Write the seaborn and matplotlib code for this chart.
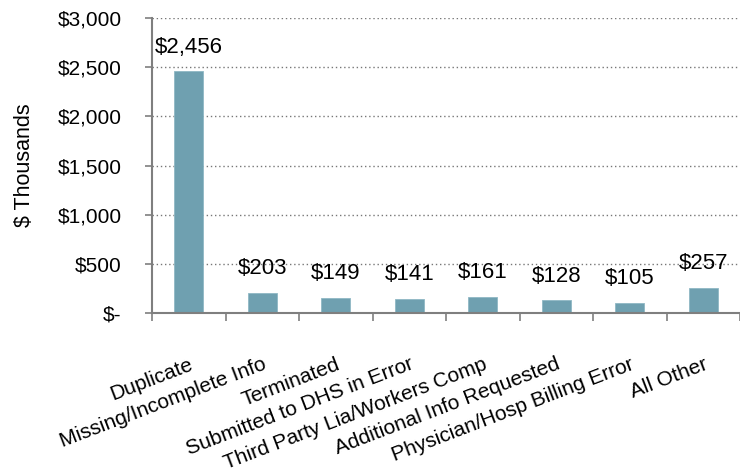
import matplotlib
matplotlib.use("Agg")
import matplotlib.pyplot as plt
import seaborn as sns
import pandas as pd
from matplotlib.ticker import FuncFormatter, FixedLocator

categories = ["Duplicate", "Missing/Incomplete Info", "Terminated",
              "Submitted to DHS in Error", "Third Party Lia/Workers Comp",
              "Additional Info Requested", "Physician/Hosp Billing Error", "All Other"]
values = [2456, 203, 149, 141, 161, 128, 105, 257]
yticks = [0, 500, 1000, 1500, 2000, 2500, 3000]

sns.set_theme(style="white")
plt.rcParams['font.family'] = ['Liberation Sans', 'DejaVu Sans']

df = pd.DataFrame({"cat": categories, "val": values})

fig = plt.figure(figsize=(7.4, 4.74), dpi=100)
ax = fig.add_axes([152/740, 1 - 313/474, 1 - 152/740, (313 - 18)/474])

sns.barplot(data=df, x="cat", y="val", color="#6FA0B0", saturation=1,
            width=0.4, ax=ax, edgecolor="#8fb8c4", linewidth=0.6)

ax.set_ylim(0, 3000)
ax.set_xlim(-0.5, 7.42)
ax.yaxis.set_major_locator(FixedLocator(yticks))
ax.yaxis.set_major_formatter(FuncFormatter(lambda v, p: "$-" if v == 0 else f"${v:,.0f}"))
ax.grid(axis="y", linestyle=(0, (1, 2)), color="#777777", linewidth=1)
ax.set_axisbelow(True)

for s in ["top", "right"]:
    ax.spines[s].set_visible(False)
for s in ["left", "bottom"]:
    ax.spines[s].set_color("#7f7f7f")
    ax.spines[s].set_linewidth(1.5)

ax.tick_params(axis="y", which="major", left=True, length=5, width=1.2, color="#7f7f7f",
               labelsize=15, pad=17, labelcolor="black")
ax.set_xticks(range(len(categories)))
ax.set_xticklabels(categories, rotation=21, ha="right", rotation_mode="anchor",
                   fontsize=15, color="black")
ax.tick_params(axis="x", which="major", bottom=False, pad=24)
ax.set_xticks([i - 0.5 for i in range(len(categories) + 1)], minor=True)
ax.tick_params(axis="x", which="minor", bottom=True, length=6, width=1.2, color="#7f7f7f")

ax.set_xlabel("")
ax.set_ylabel("$ Thousands", fontsize=15.5, labelpad=16, color="black")

for i, v in enumerate(values):
    ax.annotate(f"${v:,}", (i, v), xytext=(0, 10), textcoords="offset points",
                ha="center", va="bottom", fontsize=16, color="black")

fig.savefig("out.png", dpi=100)
